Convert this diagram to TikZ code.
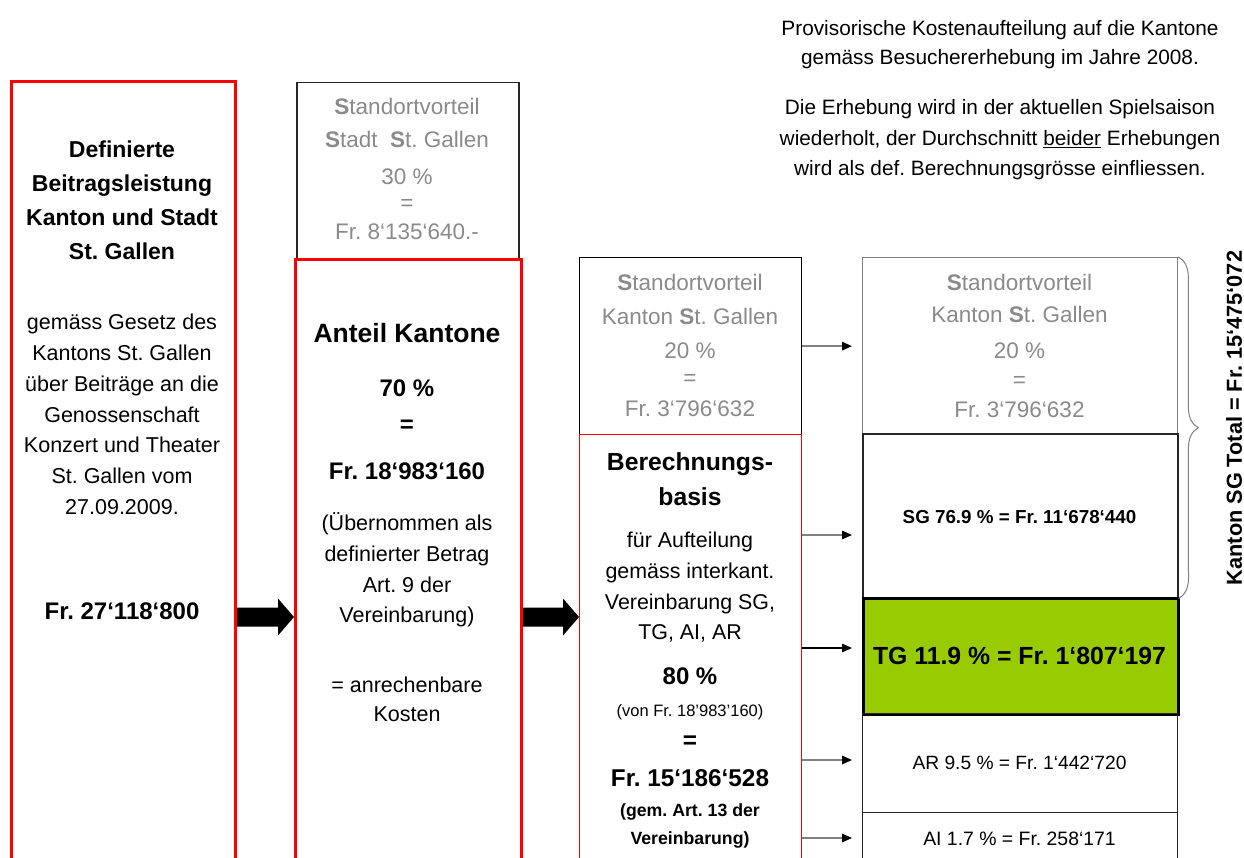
\documentclass[tikz,border=0pt]{standalone}
\usepackage{fontspec}
\setmainfont{Liberation Sans}
\usetikzlibrary{arrows.meta,decorations.pathreplacing,calc}
\definecolor{boxred}{HTML}{FF0000}
\definecolor{greytxt}{HTML}{8A8A8A}
\definecolor{tggreen}{HTML}{99CC00}
\definecolor{greyline}{HTML}{808080}
\newcommand\fsz[1]{\fontsize{#1}{#1}\selectfont}
\newcommand\txtlines[4]{\foreach \ly/\lt [count=\li] in {#4}{\node[#2,anchor=base,inner sep=0pt] (#1-\li) at (#3,\ly) {\lt};}}
\newcommand\blockarrow[2]{\fill ($(#1)+(0,-9.5)$) -- ($(#2)+(-16,-9.5)$) -- ($(#2)+(-16,-18.5)$) -- (#2) -- ($(#2)+(-16,18.5)$) -- ($(#2)+(-16,9.5)$) -- ($(#1)+(0,9.5)$) -- cycle;}
\begin{document}
\frenchspacing
\begin{tikzpicture}[x=1pt,y=-1pt,
  boxnode/.style={inner sep=0pt, anchor=north west},
  sarr/.style={draw=greyline, line width=1.5pt, -{Triangle[length=10pt,width=8.5pt,color=black]}, shorten >=10pt},
  barr/.style={draw=black, line width=1.5pt, -{Triangle[length=10pt,width=8.5pt,color=black]}, shorten >=10pt},
  grey/.style={text=greytxt, font=\fsz{22.5}},
  reg/.style={text=black, font=\fsz{21.5}}
]
\useasboundingbox (0,0) rectangle (1244,858);
\clip (0,0) rectangle (1244,858);
% boxes
\node[boxnode, draw=boxred, line width=3pt, minimum width=224pt, minimum height=820pt] (b1) at (10,80) {};
\node[boxnode, draw=black!85, line width=1.5pt, minimum width=222pt, minimum height=176pt] (b2) at (296,82) {};
\node[boxnode, draw=boxred, line width=3pt, minimum width=226pt, minimum height=620pt] (b3) at (294,258) {};
\node[boxnode, draw=black, line width=1.3pt, minimum width=222pt, minimum height=177pt] (b4) at (579,257) {};
\node[boxnode, draw=boxred, line width=1.3pt, minimum width=222pt, minimum height=440pt] (b5) at (579,434) {};
\node[boxnode, draw=greyline, line width=1.3pt, minimum width=315pt, minimum height=176pt] (bA) at (862,257) {};
\node[boxnode, draw=black!85, line width=1.5pt, minimum width=315pt, minimum height=164pt] (bB) at (862,433) {};
\node[boxnode, draw=black, fill=tggreen, line width=3pt, minimum width=315pt, minimum height=116pt] (bC) at (862,597) {};
\node[boxnode, draw=black!85, line width=1.3pt, minimum width=315pt, minimum height=99pt] (bD) at (862,713) {};
\node[boxnode, draw=black!85, line width=1.3pt, minimum width=315pt, minimum height=60pt] (bE) at (862,812) {};

% block arrows
\coordinate (ya) at (0,617);
\coordinate (a1s) at (b1.east |- ya);
\coordinate (a1t) at (b3.west |- ya);
\coordinate (a2s) at (b3.east |- ya);
\coordinate (a2t) at (b5.west |- ya);
\blockarrow{a1s}{a1t}
\blockarrow{a2s}{a2t}

% small arrows
\coordinate (y2) at (0,535);
\coordinate (y3) at (0,648);
\coordinate (y4) at (0,760);
\coordinate (y5) at (0,838);
\draw[sarr] (b4.east) -- (b4.east -| bA.west);
\draw[sarr] (b5.east |- y2) -- (bB.west |- y2);
\draw[barr] (b5.east |- y3) -- (bC.west |- y3);
\draw[sarr] (b5.east |- y4) -- (bD.west |- y4);
\draw[sarr] (b5.east |- y5) -- (bE.west |- y5);

% brace
\draw[greyline, line width=1pt, decorate, decoration={brace, amplitude=20pt}] (bA.north east) -- (bB.south east);
\node[rotate=90, font=\bfseries\fsz{21.7}, inner sep=0pt] (tot) at (1234,418) {Kanton SG Total = Fr. 15‘475‘072};

% top right text
\txtlines{tr}{reg, font=\fsz{20.8}}{1000}{35.5/{Provisorische Kostenaufteilung auf die Kantone}, 64.5/{gemäss Besuchererhebung im Jahre 2008.}, 114.5/{Die Erhebung wird in der aktuellen Spielsaison}, 145.5/{wiederholt, der Durchschnitt \underline{beider} Erhebungen}, 175.5/{wird als def. Berechnungsgrösse einfliessen.}}

% box 1
\txtlines{t1a}{font=\bfseries\fsz{23}}{122}{158/Definierte, 192/Beitragsleistung, 226/{Kanton und Stadt}, 260/{St. Gallen}}
\txtlines{t1b}{reg}{122}{330/{gemäss Gesetz des}, 360.7/{Kantons St. Gallen}, 391.4/{über Beiträge an die}, 422.1/{Genossenschaft}, 452.8/{Konzert und Theater}, 483.5/{St. Gallen vom}, 514.2/{27.09.2009.}}
\txtlines{t1c}{font=\bfseries\fsz{24}}{122}{619/{Fr. 27‘118‘800}}

% box 2
\txtlines{t2}{grey}{407}{115/{{\bfseries S}tandortvorteil}, 148/{{\bfseries S}tadt\ \ {\bfseries S}t. Gallen}, 185/{30 \%}, 211/{=}, 240/{Fr. 8‘135‘640.-}}

% box 3
\txtlines{t3a}{font=\bfseries\fsz{26.5}}{407}{342.5/{Anteil Kantone}}
\txtlines{t3b}{font=\bfseries\fsz{24}}{407}{396.6/{70 \%}, 432.6/{=}, 479.6/{Fr. 18‘983‘160}}
\txtlines{t3c}{reg}{407}{530.7/{(Übernommen als}, 561.4/{definierter Betrag}, 592.1/{Art. 9 der}, 622.8/{Vereinbarung)}, 692/{= anrechenbare}, 721/{Kosten}}

% box 4
\txtlines{t4}{grey}{690}{291/{{\bfseries S}tandortvorteil}, 324/{Kanton {\bfseries S}t. Gallen}, 358/{20 \%}, 385/{=}, 416/{Fr. 3‘796‘632}}

% box 5
\txtlines{t5a}{font=\bfseries\fsz{24.7}}{690}{470/{Berechnungs-}, 505/{basis}}
\txtlines{t5b}{reg, font=\fsz{21.4}}{690}{547.7/{für Aufteilung}, 578.4/{gemäss interkant.}, 609.1/{Vereinbarung SG,}, 639.8/{TG, AI, AR}}
\txtlines{t5c}{font=\bfseries\fsz{24}}{690}{684.6/{80 \%}}
\txtlines{t5d}{font=\fsz{16.5}}{690}{716/{(von Fr. 18'983'160)}}
\txtlines{t5e}{font=\bfseries\fsz{24.3}}{690}{748.6/{=}, 786.7/{Fr. 15‘186‘528}}
\txtlines{t5f}{font=\bfseries\fsz{17.7}}{690}{816.4/{(gem. Art. 13 der}, 844.4/{Vereinbarung)}}

% right column
\txtlines{tA}{grey}{1019.5}{291/{{\bfseries S}tandortvorteil}, 323/{Kanton {\bfseries S}t. Gallen}, 358/{20 \%}, 387/{=}, 417/{Fr. 3‘796‘632}}
\txtlines{tB}{font=\bfseries\fsz{18.8}}{1019.5}{523.8/{SG 76.9 \% = Fr. 11‘678‘440}}
\txtlines{tC}{font=\bfseries\fsz{24.8}}{1019.5}{664/{TG 11.9 \% = Fr. 1‘807‘197}}
\txtlines{tD}{font=\fsz{19.2}}{1019.5}{769/{AR 9.5 \% = Fr. 1‘442‘720}}
\txtlines{tE}{font=\fsz{19.4}}{1019.5}{845/{AI 1.7 \% = Fr. 258‘171}}
\end{tikzpicture}
\end{document}
